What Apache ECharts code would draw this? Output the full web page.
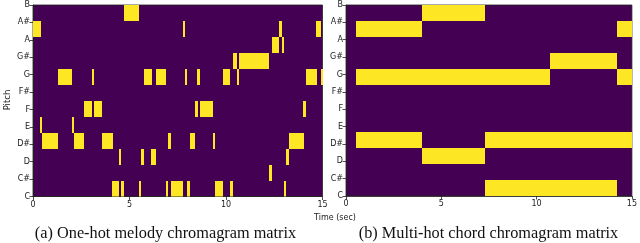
<!DOCTYPE html>
<html><head><meta charset="utf-8">
<script src="https://cdn.jsdelivr.net/npm/echarts@6/dist/echarts.min.js"></script>
<style>html,body{margin:0;padding:0;background:#fff}#c{width:640px;height:243px}</style>
</head><body><div id="c"></div>
<script>
// Pitch classes, bottom to top
const pitchLabels = ['C','C#','D','D#','E','F','F#','G','G#','A','A#','B'];
const timeTicks = [0, 5, 10, 15];

// Melody notes (one-hot): pitch index, onset (sec), offset (sec)
const melodyPitch = [11, 10,10,10,10, 9,9, 8,8,
  7,7,7,7,7,7,7,7,7,7,
  5,5,5,5,5, 4,4,
  3,3,3,3,3,3,3,
  2,2,2,2, 1,
  0,0,0,0,0,0,0,0,0];
const melodyOn = [4.72, 0.00,7.75,12.75,14.67, 12.37,12.89, 10.35,10.69,
  1.28,3.04,5.74,6.37,7.89,8.51,9.83,10.55,14.15,14.91,
  2.63,3.15,8.39,8.65,14.01, 0.36,2.02,
  0.48,2.11,3.58,7.02,8.13,9.31,13.27,
  4.46,5.61,6.11,13.11, 12.25,
  4.10,4.58,5.47,6.89,7.15,7.99,9.43,10.21,13.03];
const melodyOff = [5.47, 0.40,7.87,12.89,14.91, 12.75,13.03, 10.57,12.21,
  2.04,3.17,6.14,6.89,7.99,8.65,10.21,10.69,14.71,15.00,
  3.06,3.58,8.53,9.31,14.15, 0.47,2.11,
  1.28,2.65,4.12,7.15,8.37,9.41,14.03,
  4.57,5.73,6.37,13.25, 12.37,
  4.46,4.71,5.59,7.01,7.77,8.15,9.83,10.35,13.13];

// Chords (multi-hot)
const chordOn = [0.55, 3.99, 7.31, 10.71, 14.21];
const chordOff = [3.99, 7.31, 10.71, 14.21, 15.00];
const chordPitches = [[3,7,10],[2,7,11],[0,3,7],[0,3,8],[3,7,10]];

const melodyData = melodyPitch.map((p,i)=>[melodyOn[i], melodyOff[i], p]);
const chordData = [];
chordPitches.forEach((ps,i)=>ps.forEach(p=>chordData.push([chordOn[i], chordOff[i], p])));

const YELLOW = '#fde725', PURPLE = '#440154';
const font = 'DejaVu Sans';

function renderItem(params, api){
  const a = api.coord([api.value(0), api.value(2)]);
  const b = api.coord([api.value(1), api.value(2)+1]);
  const x0 = Math.round(a[0]), x1 = Math.max(Math.round(b[0]), x0+1);
  const y0 = Math.round(b[1]), y1 = Math.round(a[1]);
  return {type:'rect', shape:{x:x0, y:y0, width:x1-x0, height:y1-y0},
    style:{fill:YELLOW}};
}

const grids = [
  {left:33, top:5, width:289.5, height:191.5},
  {left:346, top:5, width:288.5, height:191}
];

function catAxis(gi){
  return {type:'category', gridIndex:gi, position:'left', data:pitchLabels, boundaryGap:false,
    axisLine:{show:true, lineStyle:{color:'#222', width:0.8}},
    axisTick:{show:true, length:3.5, alignWithLabel:true, lineStyle:{color:'#222', width:0.8}},
    axisLabel:{fontFamily:font, fontSize:8, color:'#222', margin:3, interval:0},
    splitLine:{show:false}};
}

const option = {
  animation:false,
  backgroundColor:'#fff',
  grid: grids.map(g=>Object.assign({show:true, backgroundColor:PURPLE, borderColor:'#222', borderWidth:0.8}, g)),
  xAxis: [0,1].map(i=>({
    type:'value', gridIndex:i, min:0, max:15, interval:5,
    axisLine:{show:true, lineStyle:{color:'#222', width:0.8}},
    axisTick:{show:true, length:3.5, lineStyle:{color:'#222', width:0.8}},
    axisLabel:{fontFamily:font, fontSize:8, color:'#222', margin:4,
      formatter:v=>timeTicks.includes(v)?String(v):''},
    splitLine:{show:false}
  })),
  yAxis: [
    {type:'value', gridIndex:0, position:'right', min:0, max:12, show:false},
    catAxis(0),
    {type:'value', gridIndex:1, position:'right', min:0, max:12, show:false},
    catAxis(1)
  ],
  series: [
    {type:'custom', xAxisIndex:0, yAxisIndex:0, renderItem, data:melodyData, encode:{x:[0,1], y:2}, clip:true},
    {type:'custom', xAxisIndex:1, yAxisIndex:2, renderItem, data:chordData, encode:{x:[0,1], y:2}, clip:true}
  ],
  graphic: [
    {type:'text', x:8, y:100, rotation:Math.PI/2, style:{text:'Pitch', fontFamily:font, fontSize:8.5, fill:'#222', align:'center', verticalAlign:'middle'}},
    {type:'text', x:335, y:218, style:{text:'Time (sec)', fontFamily:font, fontSize:8, fill:'#222', align:'center', verticalAlign:'middle'}},
    {type:'text', x:165.5, y:233.5, style:{text:'(a) One-hot melody chromagram matrix', fontFamily:'Liberation Serif', fontSize:16.3, fill:'#111', align:'center', verticalAlign:'middle'}},
    {type:'text', x:488.5, y:233.5, style:{text:'(b) Multi-hot chord chromagram matrix', fontFamily:'Liberation Serif', fontSize:16.3, fill:'#111', align:'center', verticalAlign:'middle'}}
  ]
};
const chart = echarts.init(document.getElementById('c'), null, {renderer:'canvas'});
chart.setOption(option);
</script></body></html>
